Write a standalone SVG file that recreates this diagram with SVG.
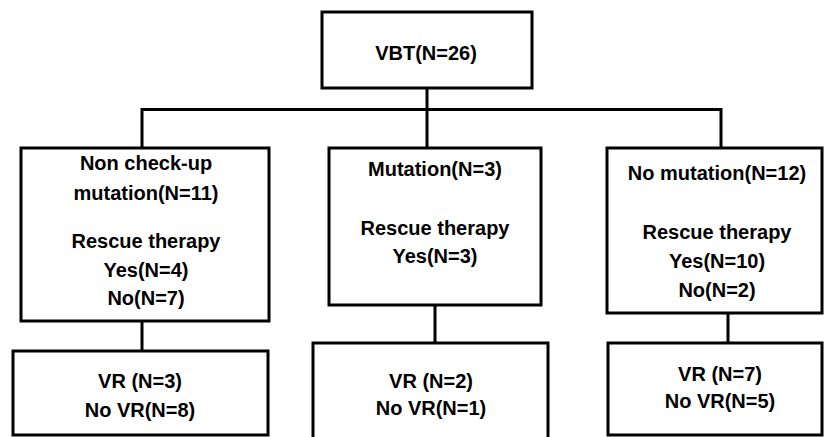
<svg xmlns="http://www.w3.org/2000/svg" width="824" height="437" viewBox="0 0 824 437">
<style>
.box{fill:#fff;stroke:#000;stroke-width:3}
.ln{fill:none;stroke:#000;stroke-width:3}
text{font-family:"Liberation Sans",Arial,sans-serif;font-weight:bold;font-size:20px;fill:#000;text-anchor:middle}
</style>
<rect width="824" height="437" fill="#fff"/>
<g id="connectors">
<path class="ln" d="M427 88 V148 M142 148 V109.5 H721 V148"/>
<path class="ln" d="M142 321 V351 M435 305 V343 M728 313 V343"/>
</g>
<g id="vbt"><rect class="box" x="322" y="12" width="210" height="76"/><text x="426" y="60">VBT(N=26)</text></g>
<g id="noncheck"><rect class="box" x="21" y="148" width="248" height="173"/>
<text x="146" y="170">Non check-up</text><text x="146" y="200">mutation(N=11)</text>
<text x="146" y="248">Rescue therapy</text><text x="146" y="277">Yes(N=4)</text><text x="146" y="305">No(N=7)</text></g>
<g id="mutation"><rect class="box" x="329" y="148" width="212" height="157"/>
<text x="435" y="176">Mutation(N=3)</text><text x="435" y="235">Rescue therapy</text><text x="435" y="263">Yes(N=3)</text></g>
<g id="nomutation"><rect class="box" x="607" y="148" width="215" height="165"/>
<text x="717" y="180">No mutation(N=12)</text><text x="717" y="239">Rescue therapy</text><text x="717" y="268">Yes(N=10)</text><text x="717" y="297">No(N=2)</text></g>
<g id="vr-left"><rect class="box" x="13" y="351" width="255" height="84"/>
<text x="140" y="388">VR (N=3)</text><text x="140" y="417">No VR(N=8)</text></g>
<g id="vr-mid"><rect class="box" x="313" y="343" width="235" height="100"/>
<text x="431" y="388">VR (N=2)</text><text x="431" y="415">No VR(N=1)</text></g>
<g id="vr-right"><rect class="box" x="608" y="343" width="214" height="92"/>
<text x="720" y="381">VR (N=7)</text><text x="720" y="408">No VR(N=5)</text></g>
</svg>
